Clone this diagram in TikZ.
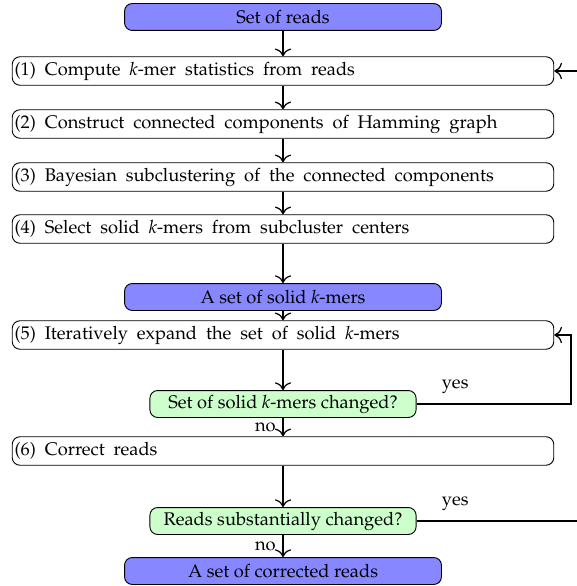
\documentclass[tikz,border=0pt]{standalone}
\usepackage[T1]{fontenc}
\usepackage{mathpazo}
\usetikzlibrary{arrows.meta}
\newcommand{\widespace}{\spaceskip=5.8pt plus 1pt minus 1pt\relax}
\begin{document}
\begin{tikzpicture}[x=0.65pt,y=-0.65pt,-{To[scale=1.5]},thick,every node/.style={font=\fontsize{11.9}{14}\selectfont}]
    \tikzstyle{box}=[draw=black,semithick,rounded corners=5pt,inner sep=2pt]
    \tikzstyle{step box}=[box,inner xsep=1.5pt,minimum width=352pt,minimum height=18.5pt,text width=349pt,align=left,
        execute at begin node=\widespace]
    \tikzstyle{data box}=[box,fill=blue!47,minimum width=206pt,minimum height=17.5pt]
    \tikzstyle{test box}=[box,fill=green!20,minimum width=173pt,minimum height=17.5pt]

    \useasboundingbox (0,0) rectangle (576,586);

    % Draw the first part: k-mer statistics and clustering
    \node[data box] (reads) at (283,17) {Set of reads};
    \node[step box] (stats) at (283,71) {(1) Compute \emph{k}-mer statistics from reads};
    \node[step box] (hamming) at (283,124) {(2) Construct connected components of Hamming graph};
    \node[step box] (bayes) at (283,177) {(3) Bayesian subclustering of the connected components};
    \node[step box] (select) at (283,229) {(4) Select solid \emph{k}-mers from subcluster centers};
    \node[data box] (solid) at (283,297) {A set of solid \emph{k}-mers};

    % Draw the second part: expansion and correction
    \node[step box] (expand) at (283,335) {(5) Iteratively expand the set of solid \emph{k}-mers};
    \node[test box] (changed) at (283,404) {Set of solid \emph{k}-mers changed?};
    \node[step box] (correct) at (283,451) {(6) Correct reads};
    \node[test box] (substantial) at (283,521) {Reads substantially changed?};
    \node[data box] (corrected) at (283,571) {A set of corrected reads};

    \foreach \source/\target in {reads/stats,stats/hamming,hamming/bayes,bayes/select,select/solid,solid/expand,expand/changed,correct/substantial}
        \draw (\source) -- (\target);
    \draw (changed) -- node[left,xshift=-1pt]{no} (correct);
    \draw (substantial) -- node[left,xshift=-1pt]{no} (corrected);

    % Loops back
    \coordinate (loop1) at (571,404);
    \coordinate (loop2) at (610,521);
    \draw (changed.east) -- node[above,pos=.25,yshift=3pt]{yes} (loop1) |- (expand.east);
    \draw (substantial.east) -- node[above,pos=.2,yshift=3pt]{yes} (loop2) |- (stats.east);
\end{tikzpicture}
\end{document}
